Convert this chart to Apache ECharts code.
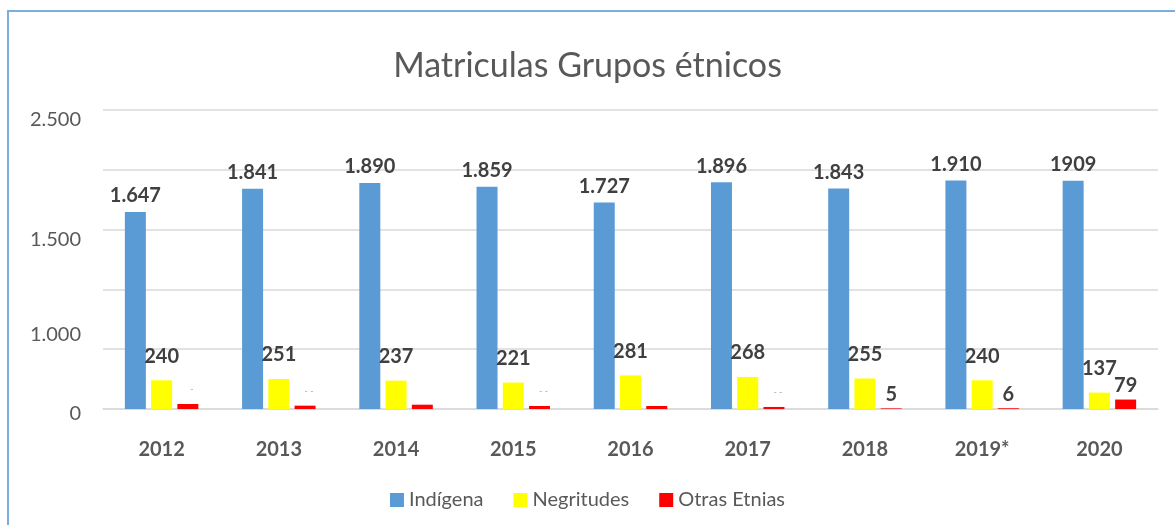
<!DOCTYPE html>
<html>
<head>
<meta charset="utf-8">
<script src="https://cdn.jsdelivr.net/npm/echarts@6/dist/echarts.min.js"></script>
<style>
  html, body { margin: 0; padding: 0; background: #fff; }
  #chart { width: 1175px; height: 525px; position: relative; }
  .frame {
    position: absolute; left: 7px; top: 10px; right: 0; bottom: 0;
    border-top: 2px solid #7aaee0; border-left: 2px solid #7aaee0;
    pointer-events: none;
  }
</style>
</head>
<body>
<div id="chart"></div>
<div class="frame"></div>
<script>
const years = ['2012', '2013', '2014', '2015', '2016', '2017', '2018', '2019*', '2020']
const indigena = [1647, 1841, 1890, 1859, 1727, 1896, 1843, 1910, 1909]
const negritudes = [240, 251, 237, 221, 281, 268, 255, 240, 137]
const otras = [42, 28, 36, 25, 25, 17, 5, 6, 79]
// etiquetas tal como aparecen en la imagen
const indigenaLabels = ['1.647', '1.841', '1.890', '1.859', '1.727', '1.896', '1.843', '1.910', '1909']
const otrasLabels = ['-', '- -', '', '- -', '', '- -', '5', '6', '79']
// ticks del eje y cada 500; solo algunos llevan texto
const yTickLabels = { 0: '0', 500: '1.000', 1000: '', 1500: '1.500', 2000: '', 2500: '2.500' }

const font = 'Lato, "Open Sans", sans-serif'
const chart = echarts.init(document.getElementById('chart'))
chart.setOption({
  animation: false,
  textStyle: { fontFamily: font },
  title: {
    text: 'Matriculas Grupos étnicos',
    left: 'center',
    top: 44,
    textStyle: { fontSize: 34, fontWeight: 'normal', color: '#595959', fontFamily: font }
  },
  grid: { left: 103, right: 17, top: 110, bottom: 116 },
  legend: {
    bottom: 10,
    left: 'center',
    itemWidth: 14,
    itemHeight: 14,
    itemGap: 30,
    icon: 'rect',
    textStyle: { fontSize: 20, color: '#595959', fontFamily: font }
  },
  xAxis: {
    type: 'category',
    data: years,
    axisLine: { lineStyle: { color: '#d9d9d9', width: 1.5 } },
    axisTick: { show: false },
    axisLabel: { fontSize: 20, fontWeight: 'bold', color: '#595959', margin: 31 }
  },
  yAxis: {
    type: 'value',
    min: 0,
    max: 2500,
    interval: 500,
    splitLine: { lineStyle: { color: '#d9d9d9', width: 1.5 } },
    axisLabel: {
      fontSize: 20,
      color: '#595959',
      margin: 22,
      formatter: v => {
        const t = yTickLabels[v]
        if (!t) return ''
        if (v === 500) return '{up|' + t + '}'
        if (v === 0) return '{z|' + t + '}'
        return '{dn|' + t + '}'
      },
      rich: {
        up: { fontSize: 20, color: '#595959', padding: [0, 0, 30, 0] },
        dn: { fontSize: 20, color: '#595959', padding: [20, 0, 0, 0] },
        z: { fontSize: 20, color: '#595959', padding: [10, 0, 0, 0] }
      }
    }
  },
  series: [
    {
      name: 'Indígena',
      type: 'bar',
      data: indigena,
      barWidth: 21,
      barGap: '25%',
      itemStyle: { color: '#5b9bd5' },
      label: {
        show: true,
        position: 'top',
        distance: 6,
        fontSize: 20,
        fontWeight: 'bold',
        color: '#404040',
        formatter: p => indigenaLabels[p.dataIndex]
      }
    },
    {
      name: 'Negritudes',
      type: 'bar',
      data: negritudes,
      barWidth: 21,
      itemStyle: { color: '#ffff00' },
      label: {
        show: true,
        position: 'top',
        distance: 14,
        fontSize: 20,
        fontWeight: 'bold',
        color: '#404040'
      }
    },
    {
      name: 'Otras Etnias',
      type: 'bar',
      data: otras,
      barWidth: 21,
      itemStyle: { color: '#ff0000' },
      label: {
        show: true,
        position: 'top',
        distance: 4,
        fontSize: 20,
        fontWeight: 'bold',
        color: '#404040',
        formatter: p => {
          const t = otrasLabels[p.dataIndex]
          return t.charAt(0) === '-' ? '{d|' + t + '}' : t
        },
        rich: {
          d: { fontSize: 9, color: '#aaaaaa', fontWeight: 'normal', padding: [0, 0, 6, 8] }
        }
      }
    }
  ]
})
</script>
</body>
</html>
